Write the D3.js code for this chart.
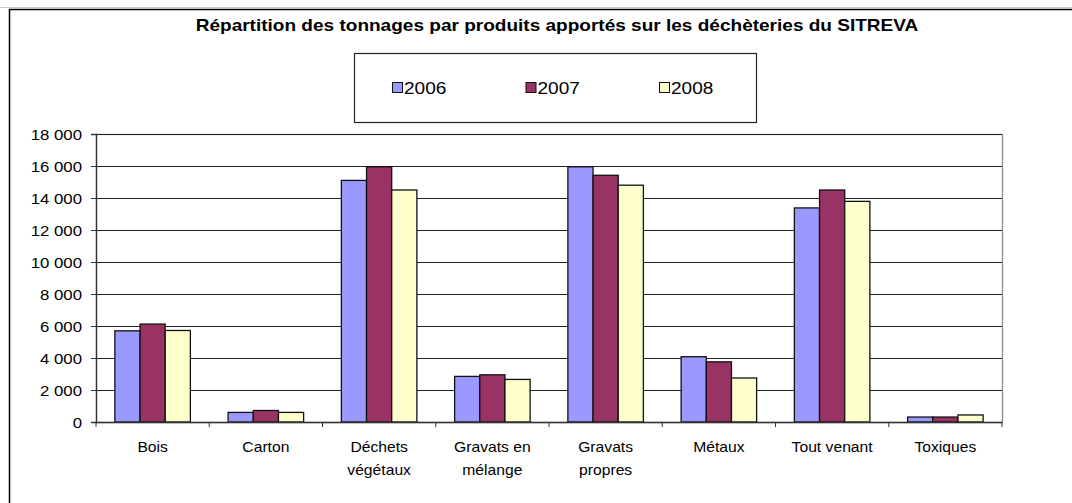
<!DOCTYPE html>
<html>
<head>
<meta charset="utf-8">
<script src="https://cdn.jsdelivr.net/npm/d3@7"></script>
<style>
  body { margin: 0; background: #fff; }
  svg { display: block; font-family: "Liberation Sans", Arial, sans-serif; }
</style>
</head>
<body>
<div id="chart"></div>
<script>
// ========================
// DATA
// ========================
const categories = ["Bois", "Carton", "Déchets végétaux", "Gravats en mélange", "Gravats propres", "Métaux", "Tout venant", "Toxiques"];
const categoryLines = [["Bois"], ["Carton"], ["Déchets", "végétaux"], ["Gravats en", "mélange"], ["Gravats", "propres"], ["Métaux"], ["Tout venant"], ["Toxiques"]];
const years = ["2006", "2007", "2008"];
const values2006 = [5700, 600, 15100, 2850, 15950, 4080, 13380, 310];
const values2007 = [6120, 720, 15950, 2950, 15420, 3760, 14500, 310];
const values2008 = [5720, 600, 14500, 2660, 14800, 2750, 13790, 440];
const yTicks = [0, 2000, 4000, 6000, 8000, 10000, 12000, 14000, 16000, 18000];
const colors = ["#9999ff", "#993366", "#ffffcc"];

const series = [values2006, values2007, values2008];

// the original picture is slightly stretched sideways, text included
const SX = 1.12;

// ========================
// CHART
// ========================
const width = 1072, height = 503;
const plot = { left: 96, right: 1002, top: 134, bottom: 422 };

const svg = d3.select("#chart").append("svg")
    .attr("width", width)
    .attr("height", height);

// outer frame (right/bottom fall outside the picture)
svg.append("line").attr("x1", 0).attr("x2", width).attr("y1", 7.5).attr("y2", 7.5)
    .attr("stroke", "#c8c8c8").attr("stroke-width", 1);
svg.append("rect")
    .attr("x", 9.5).attr("y", 9.5)
    .attr("width", width + 20).attr("height", height + 20)
    .attr("fill", "#fff").attr("stroke", "#000").attr("stroke-width", 1.5);

// title
svg.append("text")
    .attr("transform", `translate(557,31) scale(${SX},1)`)
    .attr("text-anchor", "middle")
    .attr("font-size", "17px")
    .attr("font-weight", "bold")
    .text("Répartition des tonnages par produits apportés sur les déchèteries du SITREVA");

// scales
const x0 = d3.scaleBand().domain(categories).range([plot.left, plot.right]).paddingInner(0).paddingOuter(0);
const x1 = d3.scaleBand().domain(years).range([0, x0.bandwidth()]).paddingOuter(0.75).paddingInner(0);
const y = d3.scaleLinear().domain([0, 18000]).range([plot.bottom, plot.top]);

// plot area border
svg.append("rect")
    .attr("x", plot.left + 0.5).attr("y", plot.top + 0.5)
    .attr("width", plot.right - plot.left).attr("height", plot.bottom - plot.top)
    .attr("fill", "none").attr("stroke", "#8c8c8c").attr("stroke-width", 1.3);

// gridlines
svg.append("g")
    .selectAll("line")
    .data(yTicks.filter(d => d > 0))
    .enter()
    .append("line")
    .attr("x1", plot.left).attr("x2", plot.right)
    .attr("y1", d => Math.round(y(d)) + 0.5).attr("y2", d => Math.round(y(d)) + 0.5)
    .attr("stroke", "#222").attr("stroke-width", 1);

// bars
const groups = svg.append("g")
    .selectAll("g")
    .data(categories)
    .enter()
    .append("g")
    .attr("transform", d => `translate(${x0(d)},0)`);

groups.selectAll("rect")
    .data((d, i) => years.map((yr, j) => ({ yr, v: series[j][i], c: colors[j] })))
    .enter()
    .append("rect")
    .attr("x", d => x1(d.yr))
    .attr("y", d => y(d.v))
    .attr("width", x1.bandwidth())
    .attr("height", d => y(0) - y(d.v))
    .attr("fill", d => d.c)
    .attr("stroke", "#111")
    .attr("stroke-width", 1.3);

// y axis
const yAxis = d3.axisLeft(y)
    .tickValues(yTicks)
    .tickSize(5)
    .tickFormat(d => d3.format(",")(d).replace(/,/g, " "));
const gy = svg.append("g")
    .attr("transform", `translate(${plot.left},0)`)
    .call(yAxis);
gy.select(".domain").attr("stroke", "#333").attr("stroke-width", 1.3);
gy.selectAll(".tick line").attr("stroke", "#333");
gy.selectAll(".tick text")
    .attr("font-size", "15px")
    .attr("fill", "#000")
    .attr("font-family", "Liberation Sans, Arial, sans-serif")
    .attr("x", -14 / SX)
    .attr("dy", "0.35em")
    .attr("transform", `scale(${SX},1)`);

// x axis
const gx = svg.append("g")
    .attr("transform", `translate(0,${plot.bottom})`);
gx.append("line")
    .attr("x1", plot.left).attr("x2", plot.right)
    .attr("y1", 0.5).attr("y2", 0.5)
    .attr("stroke", "#333").attr("stroke-width", 1.3);
gx.selectAll("line.tick")
    .data(d3.range(categories.length + 1))
    .enter()
    .append("line")
    .attr("class", "tick")
    .attr("x1", i => plot.left + i * x0.bandwidth())
    .attr("x2", i => plot.left + i * x0.bandwidth())
    .attr("y1", 0).attr("y2", 5)
    .attr("stroke", "#333");

gx.selectAll("text")
    .data(categories)
    .enter()
    .append("text")
    .attr("transform", d => `translate(${x0(d) + x0.bandwidth() / 2},30) scale(${SX},1)`)
    .attr("text-anchor", "middle")
    .attr("font-size", "14px")
    .selectAll("tspan")
    .data((d, i) => categoryLines[i])
    .enter()
    .append("tspan")
    .attr("x", 0)
    .attr("dy", (d, i) => i === 0 ? 0 : 23)
    .text(d => d);

// legend
const legend = svg.append("g");
legend.append("rect")
    .attr("x", 354.5).attr("y", 53.5)
    .attr("width", 402).attr("height", 69)
    .attr("fill", "#fff").attr("stroke", "#222").attr("stroke-width", 1.2);

const legendX = d3.scalePoint().domain(years).range([392, 659]);
const items = legend.selectAll("g.item")
    .data(years)
    .enter()
    .append("g")
    .attr("class", "item")
    .attr("transform", d => `translate(${legendX(d)},82)`);
items.append("rect")
    .attr("x", 0.5).attr("y", 0.5)
    .attr("width", 10).attr("height", 10)
    .attr("fill", (d, i) => colors[i])
    .attr("stroke", "#111").attr("stroke-width", 1);
items.append("text")
    .attr("transform", `translate(12,11.5) scale(${SX},1)`)
    .attr("font-size", "17px")
    .text(d => d);
</script>
</body>
</html>
